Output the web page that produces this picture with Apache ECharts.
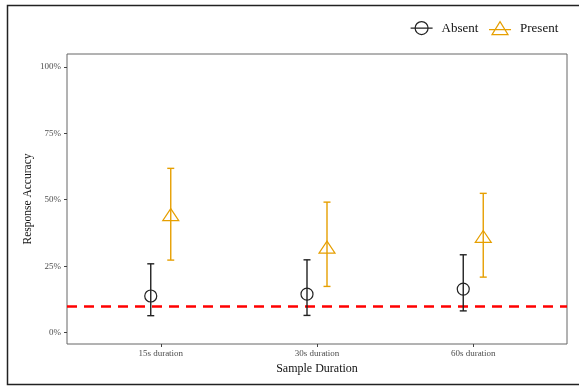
<!DOCTYPE html>
<html>
<head>
<meta charset="utf-8">
<script src="https://cdn.jsdelivr.net/npm/echarts@6/dist/echarts.min.js"></script>
<style>
  html, body { margin: 0; padding: 0; background: #fff; }
  #chart { width: 579px; height: 386px; }
</style>
</head>
<body>
<div id="chart"></div>
<script>
// data (percent)
const categories = ['15s duration', '30s duration', '60s duration'];
const absentMean = [13.8, 14.5, 16.4];
const absentLow = [6.4, 6.5, 8.2];
const absentHigh = [25.9, 27.4, 29.3];
const presentMean = [44.2, 32.0, 36.0];
const presentLow = [27.3, 17.4, 20.9];
const presentHigh = [61.8, 49.1, 52.4];
const chanceLevel = 10;
const yTicks = [0, 25, 50, 75, 100];
const xTicks = [1, 2, 3];

const dodge = 0.064;
const serif = 'Liberation Serif';
const absentColor = '#222222';
const presentColor = '#E69F00';

function rows(mean, low, high, off) {
  return mean.map((m, i) => [i + 1 + off, m, low[i], high[i]]);
}

function makeRender(color, shape) {
  return function (params, api) {
    const x = api.value(0);
    const p = api.coord([x, api.value(1)]);
    const lo = api.coord([x, api.value(2)]);
    const hi = api.coord([x, api.value(3)]);
    const cap = 3.5;
    const ls = { stroke: color, lineWidth: 1.4 };
    const children = [
      { type: 'line', shape: { x1: lo[0], y1: lo[1], x2: hi[0], y2: hi[1] }, style: ls },
      { type: 'line', shape: { x1: lo[0] - cap, y1: lo[1], x2: lo[0] + cap, y2: lo[1] }, style: ls },
      { type: 'line', shape: { x1: hi[0] - cap, y1: hi[1], x2: hi[0] + cap, y2: hi[1] }, style: ls }
    ];
    if (shape === 'circle') {
      children.push({ type: 'circle', shape: { cx: p[0], cy: p[1], r: 6 },
        style: { fill: 'none', stroke: color, lineWidth: 1.2 } });
    } else {
      children.push({ type: 'polygon', shape: { points: [[p[0], p[1] - 6.5], [p[0] + 8, p[1] + 5.5], [p[0] - 8, p[1] + 5.5]] },
        style: { fill: 'none', stroke: color, lineWidth: 1.2 } });
    }
    return { type: 'group', children: children };
  };
}

const chart = echarts.init(document.getElementById('chart'));
chart.setOption({
  animation: false,
  backgroundColor: '#fff',
  textStyle: { fontFamily: serif },
  graphic: [{
    type: 'rect', silent: true,
    shape: { x: 7.5, y: 5.5, width: 600, height: 379 },
    style: { fill: 'none', stroke: '#222', lineWidth: 1.5 }
  }],
  legend: {
    left: 405, top: 16,
    itemWidth: 22, itemHeight: 13, itemGap: 10,
    textStyle: { fontFamily: serif, fontSize: 13, color: '#111', padding: [0, 0, 0, 4] },
    data: [
      { name: 'Absent',
        icon: 'path://M0,6.5 L22,6.5 M4.5,6.5 A6.5,6.5 0 1 1 17.5,6.5 A6.5,6.5 0 1 1 4.5,6.5 Z',
        itemStyle: { color: 'transparent', borderColor: absentColor, borderWidth: 1.2 } },
      { name: 'Present',
        icon: 'path://M0,8 L22,8 M3,13 L11,0 L19,13 Z',
        itemStyle: { color: 'transparent', borderColor: presentColor, borderWidth: 1.2 } }
    ]
  },
  grid: {
    left: 67, right: 12, top: 54, bottom: 42,
    show: true, borderColor: '#666', borderWidth: 1
  },
  xAxis: {
    type: 'value', min: 0.4, max: 3.6,
    name: 'Sample Duration', nameLocation: 'middle', nameGap: 16,
    nameTextStyle: { fontFamily: serif, fontSize: 12, color: '#111' },
    axisLine: { show: false, onZero: false },
    splitLine: { show: false },
    axisTick: { show: true, length: 3, lineStyle: { color: '#444' }, customValues: xTicks },
    axisLabel: { customValues: xTicks, margin: 5, fontFamily: serif, fontSize: 9, color: '#4d4d4d',
      formatter: v => categories[Math.round(v) - 1] }
  },
  yAxis: {
    type: 'value', min: -4.25, max: 104.8,
    name: 'Response Accuracy', nameLocation: 'middle', nameGap: 33, nameMoveOverlap: false,
    nameTextStyle: { fontFamily: serif, fontSize: 11.5, color: '#111' },
    axisLine: { show: false, onZero: false },
    splitLine: { show: false },
    axisTick: { show: true, length: 3, lineStyle: { color: '#444' }, customValues: yTicks },
    axisLabel: { customValues: yTicks, margin: 6, fontFamily: serif, fontSize: 9, color: '#4d4d4d',
      formatter: v => v + '%' }
  },
  series: [
    {
      name: 'Absent', type: 'custom', z: 3,
      itemStyle: { color: absentColor },
      renderItem: makeRender(absentColor, 'circle'),
      data: rows(absentMean, absentLow, absentHigh, -dodge),
      markLine: {
        silent: true, symbol: 'none', z: 2,
        label: { show: false },
        lineStyle: { color: '#ff0000', width: 2.5, type: [10, 7] },
        data: [{ yAxis: chanceLevel }]
      }
    },
    {
      name: 'Present', type: 'custom', z: 3,
      itemStyle: { color: presentColor },
      renderItem: makeRender(presentColor, 'triangle'),
      data: rows(presentMean, presentLow, presentHigh, dodge)
    }
  ]
});
</script>
</body>
</html>
